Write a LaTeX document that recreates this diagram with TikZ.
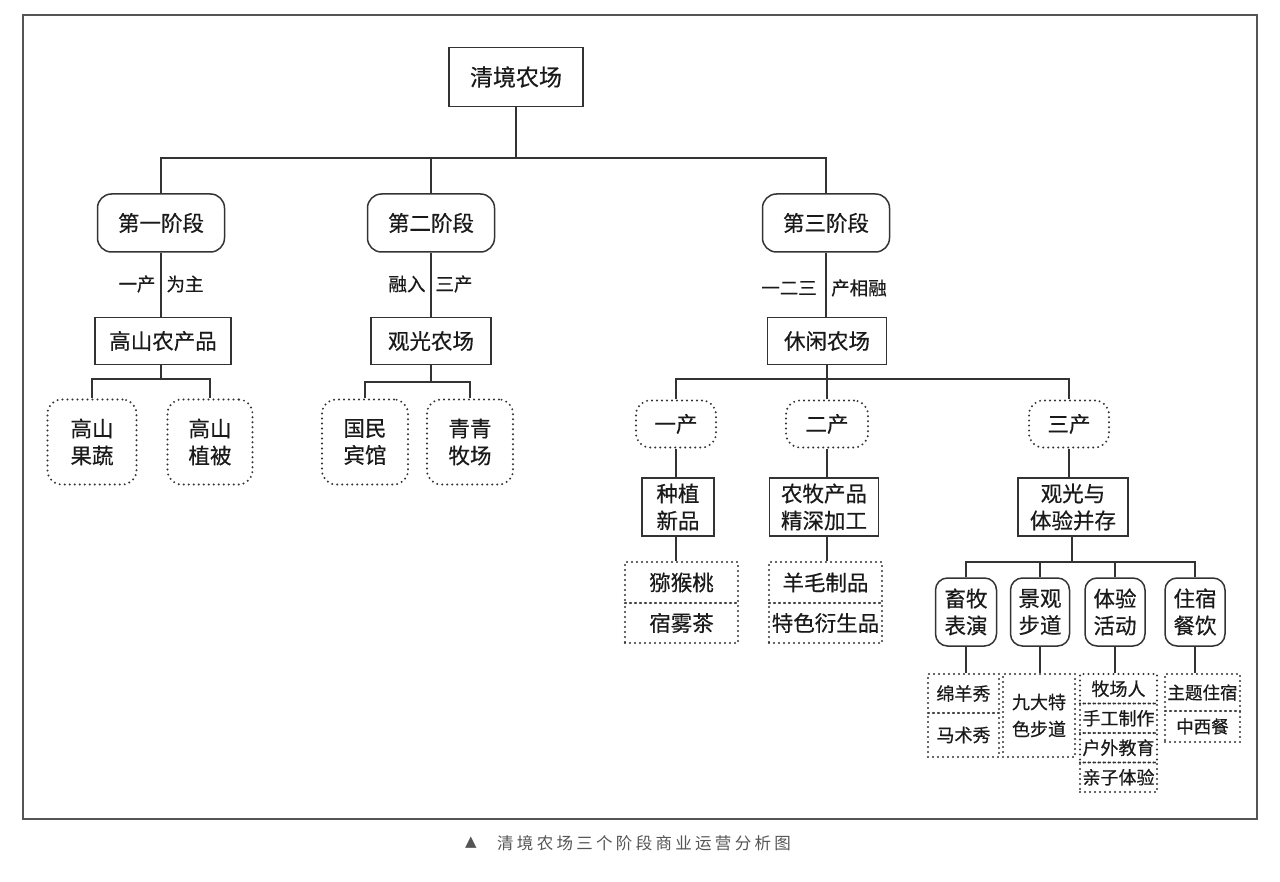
\documentclass[tikz,border=0pt]{standalone}
\usepackage{fontspec}
\setmainfont{Noto Sans CJK SC}[FakeBold=0.5]
\newfontfamily\symfont{DejaVu Sans}
\newfontfamily\capfont[LetterSpace=20]{Noto Sans CJK SC}
\definecolor{linec}{HTML}{333333}
\definecolor{textc}{HTML}{1A1A1A}
\definecolor{framec}{HTML}{555555}
\definecolor{capc}{HTML}{555555}
\begin{document}
\begin{tikzpicture}[x=1pt,y=-1pt,
  every node/.style={text=textc, inner sep=0pt, align=center},
  rootbox/.style={draw=linec, line width=1.6pt, minimum width=134pt, minimum height=59pt, font=\fontsize{23}{27}\selectfont},
  stagebox/.style={draw=linec, line width=1.5pt, rounded corners=14pt, minimum width=127pt, minimum height=58pt, font=\fontsize{21.5}{25}\selectfont},
  solidbox/.style={draw=linec, line width=1.5pt, font=\fontsize{21.5}{27}\selectfont},
  rsolid/.style={solidbox, rounded corners=12pt},
  dotbox/.style={draw=linec, line width=2.2pt, dash pattern=on 0pt off 5pt, line cap=round, font=\fontsize{21.5}{27}\selectfont},
  rdot/.style={dotbox, rounded corners=14pt},
  smalldot/.style={dotbox, font=\fontsize{18}{27}\selectfont},
  lab/.style={font=\fontsize{18.5}{20}\selectfont},
  conn/.style={draw=linec, line width=1.4pt}]
\useasboundingbox (0,0) rectangle (1280,882);
\draw[framec, line width=1.3pt] (23,15) rectangle (1257,819);

% root and stages
\node[rootbox] (root) at (516,77) {清境农场};
\node[stagebox] (s1) at (161,223) {第一阶段};
\node[stagebox] (s2) at (431,223) {第二阶段};
\node[stagebox] (s3) at (826,223) {第三阶段};
\coordinate (bus0) at (516,158);
\draw[conn] (root.south) -- (bus0);
\draw[conn] (s1.north) |- (bus0) -| (s3.north);
\draw[conn] (s2.north) -- (s2.north |- bus0);

% labels
\node[lab] (l1a) at (137,284) {一产};
\node[lab] (l1b) at (185,284) {为主};
\node[lab] (l2a) at (407,284) {融入};
\node[lab] (l2b) at (454,284) {三产};
\node[lab] (l3a) at (789,288) {一二三};
\node[lab] (l3b) at (859,288) {产相融};

% level 2
\node[solidbox, minimum width=136pt, minimum height=47pt] (p1) at (163,341) {高山农产品};
\node[solidbox, minimum width=120pt, minimum height=47pt] (p2) at (431,341) {观光农场};
\node[solidbox, minimum width=119pt, minimum height=47pt] (p3) at (827,341) {休闲农场};
\draw[conn] (s1.south) -- (s1.south |- p1.north);
\draw[conn] (s2.south) -- (s2.south |- p2.north);
\draw[conn] (s3.south) -- (s3.south |- p3.north);

% stage 1 children
\node[rdot, minimum width=89pt, minimum height=85pt] (c11) at (92,442) {高山\\果蔬};
\node[rdot, minimum width=85pt, minimum height=85pt] (c12) at (210,442) {高山\\植被};
\coordinate (b1) at (161,379);
\draw[conn] (b1 |- p1.south) -- (b1);
\draw[conn] (c11.north) |- (b1) -| (c12.north);

% stage 2 children
\node[rdot, minimum width=86pt, minimum height=85pt] (c21) at (365,442) {国民\\宾馆};
\node[rdot, minimum width=86pt, minimum height=85pt] (c22) at (470,442) {青青\\牧场};
\coordinate (b2) at (431,382);
\draw[conn] (p2.south) -- (b2);
\draw[conn] (c21.north) |- (b2) -| (c22.north);

% stage 3 children
\node[rdot, minimum width=80pt, minimum height=47pt] (d1) at (676,424) {一产};
\node[rdot, minimum width=82pt, minimum height=47pt] (d2) at (827,424) {二产};
\node[rdot, minimum width=80pt, minimum height=47pt] (d3) at (1069,424) {三产};
\coordinate (b3) at (827,379);
\draw[conn] (p3.south) -- (b3);
\draw[conn] (d1.north) |- (b3) -| (d3.north);
\draw[conn] (d2.north) -- (b3);

\node[solidbox, minimum width=72pt, minimum height=58pt] (e1) at (678,507) {种植\\新品};
\node[solidbox, minimum width=109pt, minimum height=58pt] (e2) at (824,507) {农牧产品\\精深加工};
\node[solidbox, minimum width=110pt, minimum height=58pt] (e3) at (1073,507) {观光与\\体验并存};
\draw[conn] (d1.south) -- (d1.south |- e1.north);
\draw[conn] (d2.south) -- (d2.south |- e2.north);
\draw[conn] (d3.south) -- (d3.south |- e3.north);

\node[dotbox, minimum width=113pt, minimum height=41pt] (f1a) at (681.5,582.5) {猕猴桃};
\node[dotbox, minimum width=113pt, minimum height=40pt] (f1b) at (681.5,623) {宿雾茶};
\node[dotbox, minimum width=113pt, minimum height=41pt] (f2a) at (825.5,582.5) {羊毛制品};
\node[dotbox, minimum width=113pt, minimum height=40pt] (f2b) at (825.5,623) {特色衍生品};
\draw[conn] (d1.south |- e1.south) -- (d1.south |- f1a.north);
\draw[conn] (d2.south |- e2.south) -- (d2.south |- f2a.north);

% tourism & experience
\node[rsolid, minimum width=61pt, minimum height=68pt] (g1) at (966,612) {畜牧\\表演};
\node[rsolid, minimum width=59pt, minimum height=68pt] (g2) at (1040,612) {景观\\步道};
\node[rsolid, minimum width=60pt, minimum height=68pt] (g3) at (1115,612) {体验\\活动};
\node[rsolid, minimum width=60pt, minimum height=68pt] (g4) at (1195,612) {住宿\\餐饮};
\coordinate (b4) at (1072,562);
\draw[conn] (b4 |- e3.south) -- (b4);
\draw[conn] (g1.north) |- (b4) -| (g4.north);
\draw[conn] (g2.north) -- (g2.north |- b4);
\draw[conn] (g3.north) -- (g3.north |- b4);

\node[smalldot, minimum width=71pt, minimum height=39pt] (h1a) at (963.5,693.5) {绵羊秀};
\node[smalldot, minimum width=71pt, minimum height=44pt] (h1b) at (963.5,735) {马术秀};
\node[smalldot, minimum width=72pt, minimum height=83pt] (h2) at (1039,715.5) {九大特\\色步道};
\node[smalldot, minimum width=77pt, minimum height=29.5pt] (h3a) at (1118.5,688.75) {牧场人};
\node[smalldot, minimum width=77pt, minimum height=29.5pt] (h3b) at (1118.5,718.25) {手工制作};
\node[smalldot, minimum width=77pt, minimum height=29.5pt] (h3c) at (1118.5,747.75) {户外教育};
\node[smalldot, minimum width=77pt, minimum height=29.5pt] (h3d) at (1118.5,777.25) {亲子体验};
\node[smalldot, font=\fontsize{17.5}{20}\selectfont, minimum width=75pt, minimum height=37pt] (h4a) at (1202.5,692.5) {主题住宿};
\node[smalldot, font=\fontsize{17.5}{20}\selectfont, minimum width=75pt, minimum height=31pt] (h4b) at (1202.5,726.5) {中西餐};
\draw[conn] (g1.south) -- (g1.south |- h1a.north);
\draw[conn] (g2.south) -- (g2.south |- h2.north);
\draw[conn] (g3.south) -- (g3.south |- h3a.north);
\draw[conn] (g4.south) -- (g4.south |- h4a.north);

% caption
\node[font=\symfont\fontsize{15}{16}\selectfont, text=capc] (tri) at (471,843) {▲};
\node[anchor=west, font=\capfont\fontsize{16.5}{20}\selectfont, text=capc] (cap) at (497,843) {清境农场三个阶段商业运营分析图};
\end{tikzpicture}
\end{document}
